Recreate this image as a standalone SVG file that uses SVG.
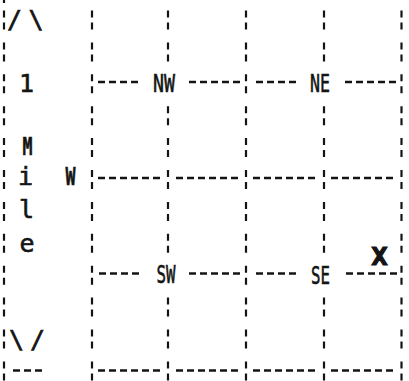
<svg xmlns="http://www.w3.org/2000/svg" width="409" height="381" viewBox="0 0 409 381">
<style>
.v{stroke:#141414;stroke-width:2.2;stroke-dasharray:7 5 7 12.9;fill:none}
.h{stroke:#141414;stroke-width:2.4;stroke-dasharray:7 4;fill:none}
.t{font-family:"DejaVu Sans Mono","Liberation Mono",monospace;font-size:25px;fill:#141414;stroke:#141414;stroke-width:0.6;text-anchor:middle}
.b{font-weight:bold}
</style>
<rect width="409" height="381" fill="#ffffff"/>
<g id="connectors">
<line class="v" x1="4" y1="0" x2="4" y2="3" style="stroke-dasharray:none"/>
<line class="v" x1="4" y1="10.5" x2="4" y2="381"/>
<line class="v" x1="92" y1="10.5" x2="92" y2="381"/>
<line class="v" x1="168" y1="10.5" x2="168" y2="74.3"/>
<line class="v" x1="168" y1="106.2" x2="168" y2="265.7"/>
<line class="v" x1="168" y1="297.6" x2="168" y2="381"/>
<line class="v" x1="246" y1="10.5" x2="246" y2="381"/>
<line class="v" x1="324" y1="10.5" x2="324" y2="74.3"/>
<line class="v" x1="324" y1="106.2" x2="324" y2="265.7"/>
<line class="v" x1="324" y1="297.6" x2="324" y2="381"/>
<line class="v" x1="401.5" y1="10.5" x2="401.5" y2="381"/>
<line class="h" x1="98" y1="82" x2="138" y2="82"/>
<line class="h" x1="189" y1="82" x2="240" y2="82"/>
<line class="h" x1="256" y1="82" x2="296" y2="82"/>
<line class="h" x1="345" y1="82" x2="396" y2="82"/>
<line class="h" x1="98" y1="178" x2="160" y2="178"/>
<line class="h" x1="176" y1="178" x2="238" y2="178"/>
<line class="h" x1="253" y1="178" x2="315" y2="178"/>
<line class="h" x1="331" y1="178" x2="393" y2="178"/>
<line class="h" x1="99" y1="273.5" x2="139" y2="273.5"/>
<line class="h" x1="189" y1="273.5" x2="240" y2="273.5"/>
<line class="h" x1="256" y1="273.5" x2="296" y2="273.5"/>
<line class="h" x1="346" y1="273.5" x2="397" y2="273.5"/>
<line class="h" x1="13" y1="370.5" x2="42" y2="370.5"/>
<line class="h" x1="98" y1="370.5" x2="160" y2="370.5"/>
<line class="h" x1="176" y1="370.5" x2="238" y2="370.5"/>
<line class="h" x1="253" y1="370.5" x2="315" y2="370.5"/>
<line class="h" x1="331" y1="370.5" x2="393" y2="370.5"/>
</g>
<g id="scale">
<text class="t" x="14.5" y="28">/</text>
<text class="t" x="36" y="28">\</text>
<text class="t" x="26.5" y="92">1</text>
<text class="t b" x="27.5" y="155" textLength="10" lengthAdjust="spacingAndGlyphs">M</text>
<text class="t" x="25.5" y="185">i</text>
<text class="t" x="26.5" y="218">l</text>
<text class="t" x="27" y="252">e</text>
<text class="t" x="16.5" y="348">\</text>
<text class="t" x="37.5" y="348">/</text>
</g>
<g id="west"><text class="t b" x="70.5" y="185" textLength="10" lengthAdjust="spacingAndGlyphs">W</text></g>
<g id="nw"><text class="t" x="164" y="92" textLength="22" lengthAdjust="spacingAndGlyphs">NW</text></g>
<g id="ne"><text class="t" x="320" y="92" textLength="20" lengthAdjust="spacingAndGlyphs">NE</text></g>
<g id="sw"><text class="t" x="166" y="283" textLength="19" lengthAdjust="spacingAndGlyphs">SW</text></g>
<g id="se"><text class="t" x="320.5" y="284" textLength="19" lengthAdjust="spacingAndGlyphs">SE</text></g>
<g id="x-mark"><text class="t b" x="379.5" y="265" textLength="16" lengthAdjust="spacingAndGlyphs" style="stroke-width:1.2">X</text></g>
</svg>
